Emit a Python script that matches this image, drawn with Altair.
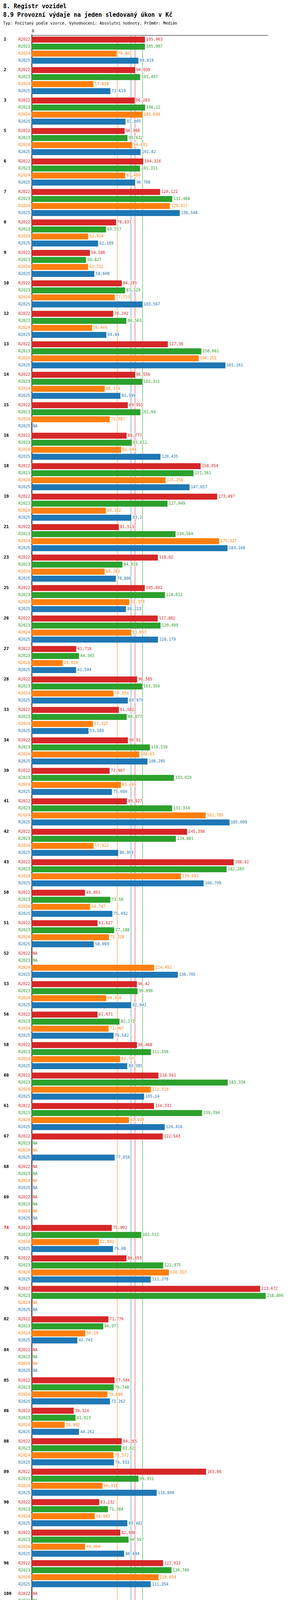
import altair as alt
import pandas as pd

FONT = "DejaVu Sans Mono"

TITLE_1 = "8. Registr vozidel"
TITLE_2 = "8.9 Provozní výdaje na jeden sledovaný úkon v Kč"
SUBTITLE = "Typ: Počítaný podle vzorce, Vyhodnocení: Absolutní hodnoty, Průměr: Medián"

CATEGORIES = ["1", "2", "3", "5", "6", "7", "8", "9", "10", "12", "13", "14", "15", "16", "18", "19",
              "21", "23", "25", "26", "27", "28", "33", "34", "39", "41", "42", "43", "50", "51", "52",
              "53", "56", "58", "60", "61", "67", "68", "69", "74", "75", "76", "82", "84", "85", "86",
              "88", "89", "90", "93", "96", "100", "101", "102", "106", "111", "112", "113", "114",
              "115", "118", "121", "122", "125", "126", "129", "130", "131", "132", "134", "135",
              "136", "138", "139", "140", "141", "144", "145", "146", "147", "151", "152", "153",
              "154", "155", "1000", "9999"]
HIGHLIGHT = "74"

PERIODS = ["R2022", "R2023", "R2024", "R2025"]
PERIOD_NAMES = ["Realita - 2022", "Realita - 2023", "Realita - 2024", "Realita - 2025"]
COLORS = ["#d62728", "#2ca02c", "#ff7f0e", "#1f77b4"]
NA = None

R2022 = [105.963, 96.699, 96.203, 86.966, 104.324, 120.121, 78.937, 54.506, 84.295, 76.242, 127.38,
         96.556, 89.955, 88.777, 158.054, 173.497, 81.513, 118.02, 105.802, 117.882, 41.716, 98.585,
         81.582, 90.01, 72.907, 89.027, 145.398, 188.92, 49.891, 61.627, NA, 98.42, 61.671, 98.488,
         118.581, 114.332, 122.543, NA, NA, 75.002, 88.653, 213.672, 71.776, NA, 77.504, 39.324,
         84.265, 163.08, 63.232, 82.908, 122.912, NA, 115.259, 119.124, 166.179, 140.865, 75.166,
         148.022, 167.727, 80.709, NA, 104.223, NA, 101.573, 84.531, NA, 83.596, NA, 87.91, 112.209,
         58.916, 149.136, NA, 82.507, 185.131, 108.333, 97.83, 69.971, 141.682, 45.866, NA, NA, NA,
         NA, NA, NA, NA]
R2023 = [105.907, 101.497, 106.12, 89.622, 101.311, 131.468, 69.557, 50.827, 87.329, 88.563, 158.661,
         103.321, 101.68, 93.612, 151.361, 127.049, 134.564, 84.919, 124.612, 120.489, 44.343, 103.354,
         88.877, 110.539, 133.029, 131.334, 134.881, 182.265, 73.58, 77.188, NA, 99.096, 82.171,
         111.556, 183.334, 159.394, NA, NA, NA, 102.511, 122.975, 218.806, 66.971, NA, 76.748, 41.023,
         83.82, 99.931, 71.384, 90.597, 130.749, NA, 111.844, 129.811, 154.844, 114.506, 67.726,
         115.763, 142.352, 93.995, NA, 147.301, NA, 120.597, 94.451, 91.681, 83.31, NA, 98.096, 115.49,
         66.152, 158.805, NA, 111.876, 165.709, 153.745, 103.71, 67.581, 146.282, 79.376, 170.375, NA,
         NA, NA, NA, NA, NA]
R2024 = [79.402, 57.818, 103.608, 94.031, 87.489, 129.317, 52.914, 52.732, 77.723, 56.449, 156.253,
         68.374, 72.987, 83.644, 125.256, 69.382, 175.327, 68.283, 91.379, 93.053, 29.019, 76.554,
         57.327, 100.63, 83.499, 162.785, 57.922, 139.592, 54.747, 72.328, 114.492, 69.816, 71.967,
         82.775, 111.519, 91.038, NA, NA, NA, 62.842, 128.353, NA, 50.19, NA, 70.886, 30.902, 76.572,
         66.318, 59.043, 49.999, 118.654, 100.076, 86.653, 59.335, 125.061, 119.292, 94.705, 75.947,
         126.878, 69.571, NA, 100.93, NA, 62.639, 83.285, 75.77, 68.961, NA, 78.165, 100.033, 44.754,
         103.806, NA, 94.683, 103.565, 127.197, 76.838, 163.322, 114.366, 80.048, 59.203, 135.094, NA,
         NA, NA, NA, NA]
R2025 = [99.819, 73.619, 87.805, 101.82, 96.708, 138.548, 62.189, 58.608, 103.567, 69.84, 181.161,
         82.999, NA, 120.435, 147.657, 93.2, 183.168, 78.808, 88.213, 118.179, 41.544, 89.979, 53.189,
         108.295, 75.084, 185.008, 80.959, 160.799, 75.492, 58.089, 136.705, 92.941, 76.582, 89.385,
         105.14, 124.416, 77.656, NA, NA, 76.08, 111.378, NA, 42.743, NA, 73.262, 44.262, 76.933,
         116.896, 89.482, 86.444, 111.354, 104.437, 114.865, 66.877, 147.803, 148.493, 86.769, 85.057,
         146.364, 88.119, NA, 126.634, NA, 104.497, 86.152, 101.615, 74.983, NA, 92.877, 114.398,
         58.283, 128.605, NA, 100.596, 91.457, 120.782, 88.856, 86.505, 154.486, 61.592, 120.583,
         134.896, 108.079, 91.819, NA, NA, NA]

MEDIANS = [96.628, 103.71, 80.048, 92.877]
MINS = [39.324, 41.023, 29.019, 41.544]
MAXS = [213.672, 218.806, 175.327, 185.008]

SERIES = [R2022, R2023, R2024, R2025]

# first category drawn (0 = full chart)
FIRST = 0
SHOWN = CATEGORIES[FIRST:]
STEP = 78
PAD_IN = 0.077
PAD_OUT = 0.03
PLOT_H = round(STEP * (len(SHOWN) - PAD_IN + 2 * PAD_OUT))


def cz(v):
    return repr(v).replace(".", ",")


rows = []
for i, c in enumerate(CATEGORIES):
    if c not in SHOWN:
        continue
    for p, s in zip(PERIODS, SERIES):
        rows.append({"category": c, "period": p, "value": s[i]})
df = pd.DataFrame(rows)
med_df = pd.DataFrame({"period": PERIODS, "value": MEDIANS})

all_vals = [v for s in SERIES for v in s if v is not None]
XMAX = max(all_vals) * 1.01

x_enc = alt.X("value:Q", scale=alt.Scale(domain=[0, XMAX], nice=False, zero=True),
              axis=alt.Axis(orient="top", values=[0], title=None, grid=False,
                            domainColor="black", tickColor="black", tickSize=4,
                            labelPadding=2, labelFont=FONT, labelFontSize=10,
                            labelColor="black"))
y_enc = alt.Y("category:N", sort=SHOWN,
              scale=alt.Scale(domain=SHOWN, paddingInner=PAD_IN, paddingOuter=PAD_OUT),
              axis=alt.Axis(labels=False, ticks=False, title=None, grid=False,
                            domainColor="black", domainWidth=2))
yoff = alt.YOffset("period:N", sort=PERIODS,
                   scale=alt.Scale(domain=PERIODS, paddingInner=0.15, paddingOuter=0.075))
color_enc = alt.Color("period:N", scale=alt.Scale(domain=PERIODS, range=COLORS), legend=None)

rules = alt.Chart(med_df).mark_rule(strokeWidth=1).encode(x=x_enc, color=color_enc)

bars = alt.Chart(df).transform_filter("isValid(datum.value)").mark_bar().encode(
    x=x_enc, y=y_enc, yOffset=yoff, color=color_enc)

lab_calc = dict(
    label="isValid(datum.value) ? replace(toString(datum.value), '.', ',') : 'NA'",
    value="isValid(datum.value) ? datum.value : 0",
)

halo = alt.Chart(df).transform_calculate(**lab_calc).mark_text(
    align="left", baseline="middle", dx=3, font=FONT, fontSize=10,
    stroke="white", strokeWidth=3, strokeJoin="round").encode(
    x=x_enc, y=y_enc, yOffset=yoff, text="label:N", color=alt.value("white"))

values = alt.Chart(df).transform_calculate(**lab_calc).mark_text(
    align="left", baseline="middle", dx=3, font=FONT, fontSize=10).encode(
    x=x_enc, y=y_enc, yOffset=yoff, text="label:N", color=color_enc)

period_labels = alt.Chart(df).mark_text(
    align="right", baseline="middle", font=FONT, fontSize=10).encode(
    x=alt.value(-4), y=y_enc, yOffset=yoff, text="period:N", color=color_enc)

cat_labels = alt.Chart(df).transform_filter(f"datum.period == '{PERIODS[0]}'").mark_text(
    align="left", baseline="middle", font=FONT, fontSize=11, fontWeight="bold").encode(
    x=alt.value(-71.5), y=y_enc, yOffset=yoff, text="category:N",
    color=alt.condition(alt.datum.category == HIGHLIGHT, alt.value("#ff0000"), alt.value("black")))


def static_text(txt, x, y, color="black", size=10, weight="normal"):
    return alt.Chart(pd.DataFrame({"t": [txt]})).mark_text(
        align="left", baseline="middle", font=FONT, fontSize=size, fontWeight=weight,
        color=color).encode(text="t:N", x=alt.value(x), y=alt.value(y))


extras = [
    static_text(TITLE_1, -73, -74, size=15, weight="bold"),
    static_text(TITLE_2, -73, -52, size=15, weight="bold"),
    static_text(SUBTITLE, -73, -30, size=10),
]

legend_pos = [(-1.6, PLOT_H + 25), (298.4, PLOT_H + 25), (-1.6, PLOT_H + 45), (298.4, PLOT_H + 45)]
for (lx, ly), p, n, c in zip(legend_pos, PERIODS, PERIOD_NAMES, COLORS):
    extras.append(static_text(f"Období[{p}]: {n}", lx, ly, color=c))

for i, c in enumerate(COLORS):
    yy = PLOT_H + 75 + 20 * i
    extras.append(static_text(f"Medián: {cz(MEDIANS[i])}", -1.6, yy, color=c))
    extras.append(static_text(f"Min: {cz(MINS[i])}", 248.7, yy, color=c))
    extras.append(static_text(f"Max: {cz(MAXS[i])}", 448.7, yy, color=c))

chart = alt.layer(rules, bars, halo, values, period_labels, cat_labels, *extras).properties(
    width=605, height=PLOT_H,
    padding={"left": 73, "top": 82, "right": 50, "bottom": 143},
    autosize=alt.AutoSizeParams(type="none"),
).configure_view(stroke=None)

chart.save("out.html", embed_options={"renderer": "svg", "actions": False})
